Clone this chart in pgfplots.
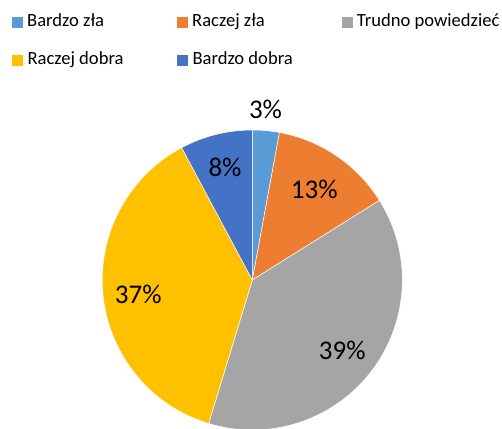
\documentclass[border=0pt]{standalone}
\usepackage{pgfplots}
\pgfplotsset{compat=1.18}
\usepackage{fontspec}
\setmainfont{Carlito}
\definecolor{c1}{HTML}{5B9BD5}
\definecolor{c2}{HTML}{ED7D31}
\definecolor{c3}{HTML}{A5A5A5}
\definecolor{c4}{HTML}{FFC000}
\definecolor{c5}{HTML}{4472C4}
\begin{document}
\begin{tikzpicture}
\useasboundingbox (0,0) rectangle (502pt,428pt);
\begin{axis}[
  at={(0,0)}, anchor=origin,
  scale only axis, width=502pt, height=428pt,
  xmin=0, xmax=502, ymin=0, ymax=428,
  hide axis, clip=false,
]
\xdef\angA{90}
\foreach \v/\c in {2.9/c1, 13.2/c2, 38.6/c3, 37.5/c4, 7.8/c5}{
  \pgfmathsetmacro\angB{\angA - 3.6*\v}
  \edef\temp{\noexpand\fill[\c, draw=white, line width=0.5pt, line join=round] (axis cs:252.3,148) -- ++(\angA:150pt) arc[start angle=\angA, end angle=\angB, radius=150pt] -- cycle;}
  \temp
  \xdef\angA{\angB}
}
% data labels
\node[font=\fontsize{27}{30}\selectfont] at (axis cs:265.5,318.3) {3\%};
\node[font=\fontsize{27}{30}\selectfont] at (axis cs:314.3,239) {13\%};
\node[font=\fontsize{27}{30}\selectfont] at (axis cs:342.3,77.3) {39\%};
\node[font=\fontsize{27}{30}\selectfont] at (axis cs:138.3,133.7) {37\%};
\node[font=\fontsize{27}{30}\selectfont] at (axis cs:225,260.7) {8\%};
% legend
\fill[c1] (axis cs:12,400.3) rectangle (axis cs:22.6,410.8);
\node[anchor=base west, inner sep=0pt, font=\fontsize{18.6}{21}\selectfont] at (axis cs:27,401.3) {Bardzo zła};
\fill[c2] (axis cs:177,400.3) rectangle (axis cs:187.6,410.8);
\node[anchor=base west, inner sep=0pt, font=\fontsize{18.6}{21}\selectfont] at (axis cs:192,401.3) {Raczej zła};
\fill[c3] (axis cs:342,400.3) rectangle (axis cs:352.6,410.8);
\node[anchor=base west, inner sep=0pt, font=\fontsize{18.6}{21}\selectfont] at (axis cs:356.7,401.3) {Trudno powiedzieć};
\fill[c4] (axis cs:12,362) rectangle (axis cs:22.6,372.5);
\node[anchor=base west, inner sep=0pt, font=\fontsize{18.6}{21}\selectfont] at (axis cs:27.3,363) {Raczej dobra};
\fill[c5] (axis cs:177,362) rectangle (axis cs:187.6,372.5);
\node[anchor=base west, inner sep=0pt, font=\fontsize{18.6}{21}\selectfont] at (axis cs:192.3,363) {Bardzo dobra};
\end{axis}
\end{tikzpicture}
\end{document}
